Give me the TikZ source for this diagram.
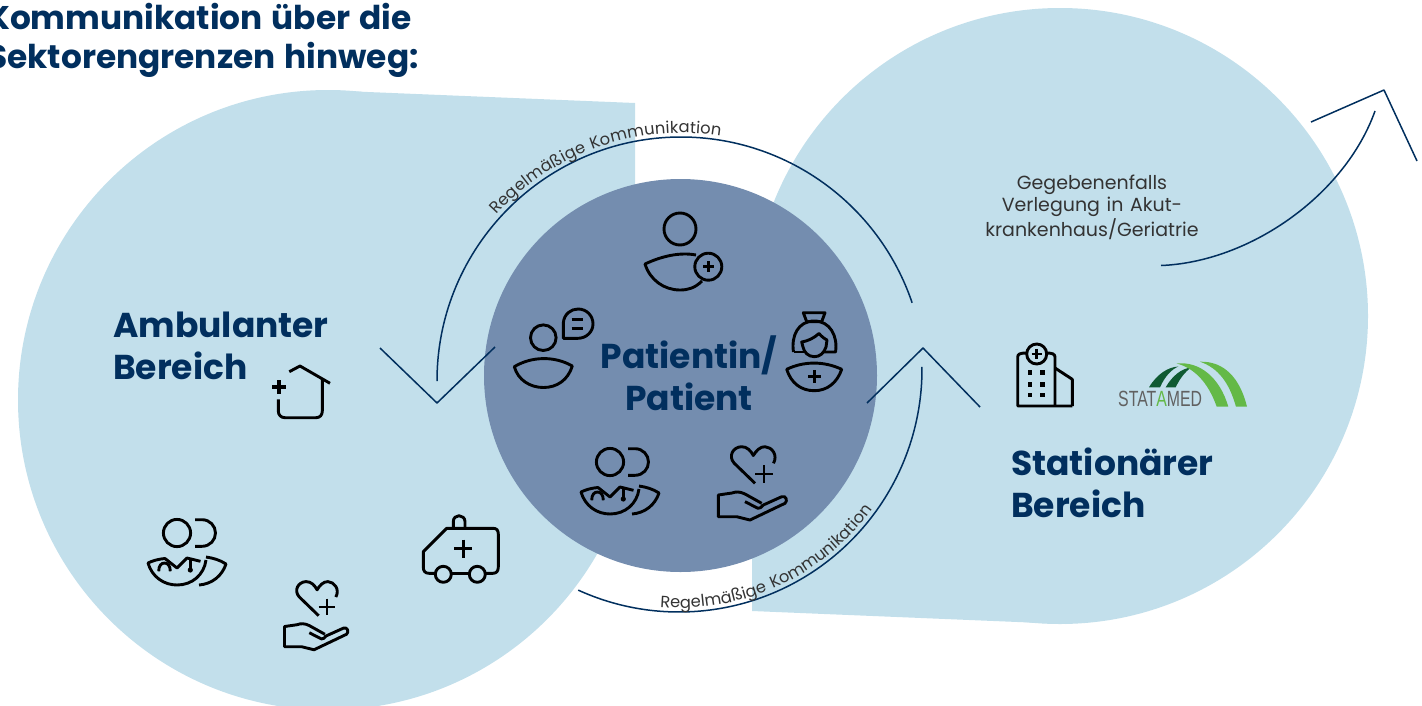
\documentclass[tikz,border=0pt]{standalone}
\usepackage{fontspec}
\setmainfont{Poppins}[WordSpace=1.3]
\newfontfamily\logofont{Liberation Sans}
\usepackage{xcolor}
\usetikzlibrary{decorations.text}
\definecolor{paleblue}{HTML}{C2DFEB}
\definecolor{midblue}{HTML}{748DAF}
\definecolor{navy}{HTML}{012F5E}
\definecolor{labelgrey}{HTML}{333333}
\definecolor{darkgreen}{HTML}{0F5A32}
\definecolor{lightgreen}{HTML}{64B947}
\newcommand{\bigfont}{\fontsize{34.5}{42}\selectfont\bfseries}
\newcommand{\titlefont}{\fontsize{32.8}{38.5}\selectfont\bfseries}
\newcommand{\arcfont}{\fontsize{16.3}{16}\selectfont\color{labelgrey}}

\begin{document}
\begin{tikzpicture}[x=1pt,y=-1pt,line join=round,
	iconline/.style={draw=black,line width=2.9pt,fill=none},
	commline/.style={draw=navy,line width=1.5pt},
	heading/.style={text=navy,align=left,anchor=north west,inner sep=0pt,font=\bigfont},
	doctor/.pic={
		\draw[iconline] (0,0) circle[radius=13.6];
		\draw[iconline] (18,-13.3) -- (25,-13.3) .. controls (33,-13.3) and (38.5,-7) .. (38.5,0) .. controls (38.5,7) and (33,13.3) .. (25,13.3) -- (18,13.3);
		\draw[iconline] (23.5,28.3) -- (10,25) -- (0,35) -- (-12,25.5) .. controls (-18,26) and (-24,27.5) .. (-29,30) .. controls (-25,44) and (-13,52) .. (0,52) .. controls (15,52) and (27,42) .. (29,27);
		\draw[iconline] (29,24) .. controls (36,25) and (43,27) .. (49,31) .. controls (45,43) and (35,51) .. (22,52);
		\draw[iconline] (-18.3,38.3) .. controls (-18.3,33) and (-16,30) .. (-12.5,30) .. controls (-9,30) and (-6.7,33) .. (-6.7,38.3);
		\draw[iconline] (13.3,26.7) -- (13.3,36.7);
		\fill (13.3,37) circle[radius=2.6];
	},
	handheart/.pic={
		\draw[iconline] (-9,9.3) -- (-30,-11) .. controls (-36,-18) and (-31,-27) .. (-22.5,-27.3) .. controls (-17,-27.5) and (-13,-23) .. (-10.7,-18.5) .. controls (-8,-23) and (-4,-27.5) .. (1,-27.3) .. controls (8,-27) and (14,-19) .. (9.5,-10.7);
		\draw[iconline] (-9,0) -- (9,0) (0,-9) -- (0,9);
		\draw[iconline] (-2.3,29.3) -- (-19,20) .. controls (-24,17.5) and (-28,17.5) .. (-32,19) -- (-45.7,21) -- (-45.7,42.7) -- (-27.3,42.7) -- (-14,46) -- (21,29.3) .. controls (24,27) and (22,21) .. (17.7,22.7) -- (-0.7,31) .. controls (-3,33) and (-4,35) .. (-6,34.3) -- (-19,27.7);
	}]
	\useasboundingbox (0,0) rectangle (1422,705);
	\clip (0,0) rectangle (1422,705);

	% areas
	\fill[paleblue] (328,400) circle[radius=310];
	\fill[paleblue] (324,90.2) -- (635,103) -- (635,300) -- (328,400) -- cycle;
	\fill[paleblue] (1060,316) circle[radius=308];
	\fill[paleblue] (1066,624) -- (752,611) -- (752,316) -- (1060,316) -- cycle;
	\fill[midblue] (680.5,375.5) circle[radius=196.5];

	\node[heading,font=\titlefont] (title) at (-13,3.5) {Kommunikation über die\\Sektorengrenzen hinweg:};
	\node[heading] (ambulant) at (113,312) {Ambulanter\\Bereich};
	\node[heading] (stationaer) at (1011,448) {Stationärer\\Bereich};
	\node[text=navy,align=center,inner sep=0pt,font=\bigfont] (patient) at (689,373.5) {Patientin/\\Patient};
	\node[text=labelgrey,align=center,inner sep=0pt,font=\fontsize{19}{22.7}\selectfont] (verlegung) at (1092,207) {Gegebenenfalls\\Verlegung in Akut-\\krankenhaus/Geriatrie};

	% communication arcs
	\coordinate (topc) at (681,381);
	\coordinate (botc) at (679,369);
	\draw[commline] (topc) ++(180:244) coordinate (topstart) arc[start angle=180,end angle=341.3,radius=244];
	\draw[commline] (botc) ++(114.5:243) coordinate (botstart) arc[start angle=114.5,end angle=-0.5,radius=243];
	\path[decorate,decoration={text along path,text align=fit to path,raise=4pt,text={|\arcfont|Regelmäßige Kommunikation}}]
		(topc) ++(222:244) arc[start angle=222,end angle=279,radius=244];
	\path[decorate,decoration={text along path,text align=fit to path,raise=4pt,text={|\arcfont|Regelmäßige Kommunikation}}]
		(botc) ++(94.5:243) arc[start angle=94.5,end angle=36,radius=243];

	% arrow heads
	\coordinate (tipa) at (437,403);
	\coordinate (tipb) at (923,348);
	\coordinate (tipc) at (1384,90);
	\draw[commline] (380,348) -- (tipa) -- (495,347);
	\draw[commline] (867,403) -- (tipb) -- (980,407);
	\draw[commline] (1311,122) -- (tipc) -- (1417,161);
	\coordinate (leavestart) at (1161,265.5);
	\coordinate (leaveend) at (1375,111);
	\draw[commline] (leavestart) .. controls (1250,262) and (1345,195) .. (leaveend);

	% icons patient
	\draw[iconline] (680,229) circle[radius=16];
	\draw[iconline] (696,255) .. controls (680,252) and (662,256) .. (645,264) .. controls (650,280) and (664,290) .. (680,290) .. controls (688,290) and (695,288) .. (702,281);
	\draw[iconline] (708.3,266.7) circle[radius=13.5];
	\draw[iconline] (703,266.7) -- (713.6,266.7) (708.3,261.4) -- (708.3,272);

	\draw[iconline] (543.3,337.7) circle[radius=12.8];
	\draw[iconline] (514.3,366.7) .. controls (532,356) and (555,356) .. (572.3,366) .. controls (568,380) and (557,387.5) .. (543.5,387.5) .. controls (530,387.5) and (518,380) .. (514.3,366.7) -- cycle;
	\draw[iconline] (563.3,338.3) -- (563.3,323) .. controls (564,314) and (571,309) .. (578,309) .. controls (587,309) and (593,316) .. (593,324) .. controls (593,332) and (586,338.3) .. (578,338.3) -- cycle;
	\draw[iconline] (571.7,319.3) -- (583.3,319.3) (571.7,328.3) -- (583.3,328.3);

	\draw[iconline] (786.7,369.3) .. controls (804,361) and (824,361) .. (841.7,369.3) .. controls (837,383) and (827,390.7) .. (814.3,390.7) .. controls (801,390.7) and (791,383) .. (786.7,369.3) -- cycle;
	\draw[iconline] (808,376.7) -- (820.6,376.7) (814.3,370.4) -- (814.3,383);
	\draw[iconline] (803.3,312.7) -- (825,312.7) -- (821.7,321.7) -- (806.7,321.7) -- cycle;
	\draw[iconline] (793.5,352) .. controls (791,336) and (798,321) .. (814.3,321) .. controls (830,321) and (838,336) .. (835.5,352) -- (823,352);
	\draw[iconline] (793.5,352) -- (805,352);
	\draw[iconline] (801.7,342) .. controls (808,341) and (814,338) .. (819,333.5) .. controls (822,337) and (825,339) .. (827,340) -- (826,347) .. controls (824,353) and (820,356.7) .. (814.3,356.7) .. controls (808,356.7) and (804,352) .. (803,347) -- cycle;

	\pic (doctora) at (610,462) {doctor};
	\pic (handa) at (764,474) {handheart};

	% icons outpatient
	\draw[iconline] (289.3,371.7) -- (300,366) -- (330,383.3);
	\draw[iconline] (322.3,378.3) -- (322.3,411) .. controls (322.3,415) and (320,417.7) .. (316,417.7) -- (285,417.7) .. controls (281,417.7) and (278.3,415) .. (278.3,411) -- (278.3,399.3);
	\draw[line width=4pt] (272.3,387.3) -- (286.3,387.3) (279.3,380.3) -- (279.3,394.3);

	\draw[iconline] (435.3,573.3) -- (429,573.3) .. controls (425,573.3) and (423.3,571) .. (423.3,567) -- (423.3,551.7) -- (446.7,528.3) -- (493,528.3) .. controls (496.5,528.3) and (498.3,530) .. (498.3,534) -- (498.3,567) .. controls (498.3,571) and (496.5,573.3) .. (493,573.3) -- (485.3,573.3);
	\draw[iconline] (451.3,573.3) -- (469.3,573.3);
	\draw[iconline] (443.3,574.3) circle[radius=8];
	\draw[iconline] (477.3,574.3) circle[radius=8];
	\draw[iconline] (453.3,527) -- (453.3,521.5) .. controls (453.3,518) and (456,515.7) .. (459,515.7) .. controls (462,515.7) and (465,518) .. (465,521.5) -- (465,527);
	\draw[iconline] (454.3,548.7) -- (472.3,548.7) (463.3,539.7) -- (463.3,557.7);

	\pic (doctorb) at (177,533) {doctor};
	\pic[scale=.93] (handb) at (327,607) {handheart};

	% icon hospital
	\draw[iconline] (1072.3,406) -- (1017.7,406) -- (1017.7,357) .. controls (1017.7,354) and (1020,353) .. (1026.7,353);
	\draw[iconline] (1046.7,353) .. controls (1052,353) and (1055,354) .. (1055,357) -- (1055,406);
	\draw[iconline] (1055,368) -- (1072.3,379.3) -- (1072.3,406);
	\draw[iconline] (1036.7,354) circle[radius=10];
	\draw[iconline] (1031.5,354) -- (1041.9,354) (1036.7,348.8) -- (1036.7,359.2);
	\foreach \wx in {1030,1042.3}
		\foreach \wy in {372.3,384.3,395}
			\fill (\wx-2.3,\wy-2.3) rectangle (\wx+2.3,\wy+2.3);

	% logo
	\fill[darkgreen] (1149,387.3) -- (1160,387.3) .. controls (1165,376) and (1172,369) .. (1178.5,366.5) .. controls (1168,367) and (1157,374) .. (1149,387.3) -- cycle;
	\fill[darkgreen] (1165.7,387.3) -- (1175.7,387.3) .. controls (1180,378) and (1186,371) .. (1191,367.7) .. controls (1182,368) and (1172,376) .. (1165.7,387.3) -- cycle;
	\fill[lightgreen] (1176.7,363.5) .. controls (1200,361) and (1220,378) .. (1228.3,406.7) -- (1216.7,406.7) .. controls (1208,382) and (1194,368) .. (1176.7,363.5) -- cycle;
	\fill[lightgreen] (1200,361.7) .. controls (1224,361) and (1240,378) .. (1247,406.7) -- (1236,406.7) .. controls (1229,382) and (1218,368) .. (1200,361.7) -- cycle;
	\node[anchor=west,inner sep=0pt,text=black!62] (logotext) at (1118,399) {\logofont\fontsize{22}{22}\selectfont\scalebox{.72}[1]{STAT\textcolor{lightgreen}{A}MED}};
\end{tikzpicture}
\end{document}
